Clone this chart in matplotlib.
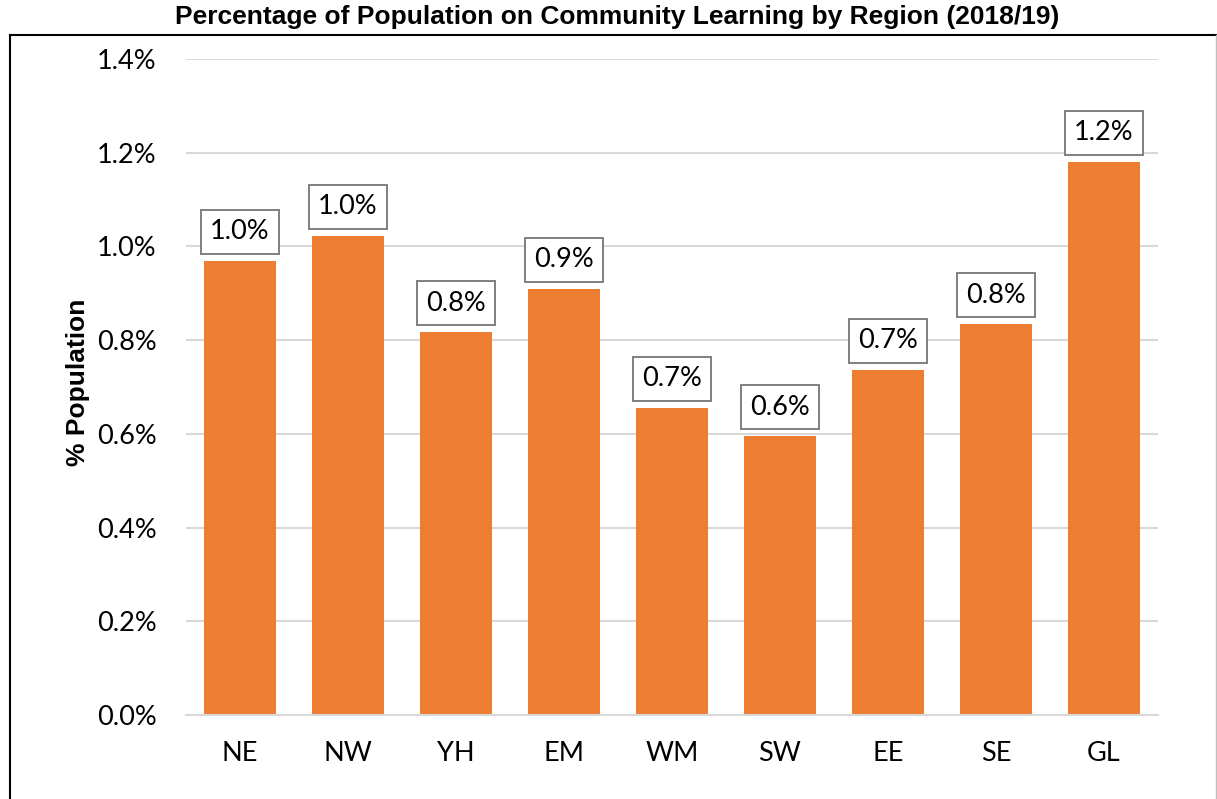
import numpy as np
from matplotlib import pyplot as plt
from matplotlib.lines import Line2D
from matplotlib.ticker import FuncFormatter

# values (percent of population)
regions = ['NE', 'NW', 'YH', 'EM', 'WM', 'SW', 'EE', 'SE', 'GL']
pct = [0.969, 1.022, 0.817, 0.909, 0.655, 0.595, 0.736, 0.834, 1.180]
yticks = [0.0, 0.2, 0.4, 0.6, 0.8, 1.0, 1.2, 1.4]

tick_font = 'Lato'
bar_col = '#ED7D31'
grid_col = '#D9D9D9'

fig = plt.figure(figsize=(12.17, 7.99), dpi=100)
ax = fig.add_axes([186 / 1217, 1 - 715 / 799, 972 / 1217, 656 / 799])

x = np.arange(len(regions))
ax.bar(x, pct, width=0.667, color=bar_col, zorder=2)

for xx, v in zip(x, pct):
    ax.annotate(f'{v:.1f}%', (xx, v), xytext=(0, 12), textcoords='offset points',
                ha='center', va='bottom', fontsize=19.5, family=tick_font,
                bbox=dict(boxstyle='square,pad=0.35', fc='white', ec='#7F7F7F', lw=1.4),
                zorder=3)

ax.set_xlim(-0.5, len(regions) - 0.5)
ax.set_ylim(0, 1.4)
ax.set_yticks(yticks)
ax.yaxis.set_major_formatter(FuncFormatter(lambda v, p: f'{v:.1f}%'))
ax.set_xticks(x)
ax.set_xticklabels(regions)
ax.tick_params(length=0, labelsize=19.5)
ax.tick_params(axis='y', pad=21)
ax.tick_params(axis='x', pad=19)
for lab in ax.get_xticklabels() + ax.get_yticklabels():
    lab.set_family(tick_font)
ax.grid(axis='y', color=grid_col, lw=1.5, zorder=0)
for s in ['top', 'right', 'left']:
    ax.spines[s].set_visible(False)
ax.spines['bottom'].set_color(grid_col)
ax.spines['bottom'].set_linewidth(1.5)

fig.text(78 / 1217, 1 - 382 / 799, '% Population', rotation=90, ha='center', va='center',
         fontsize=19, fontweight='bold', family='Liberation Sans')

fig.text(617 / 1217, 1 - 17 / 799, 'Percentage of Population on Community Learning by Region (2018/19)',
         ha='center', va='center', fontsize=19, fontweight='bold', family='Liberation Sans')

# chart frame
top = 1 - 35 / 799
fig.add_artist(Line2D([10 / 1217, 1216 / 1217], [top, top], color='black', lw=1.5))
fig.add_artist(Line2D([10 / 1217, 10 / 1217], [0, top], color='black', lw=1.5))
fig.add_artist(Line2D([1216 / 1217, 1216 / 1217], [0, top], color='#BFBFBF', lw=1.0))

fig.savefig('out.png', dpi=100)
